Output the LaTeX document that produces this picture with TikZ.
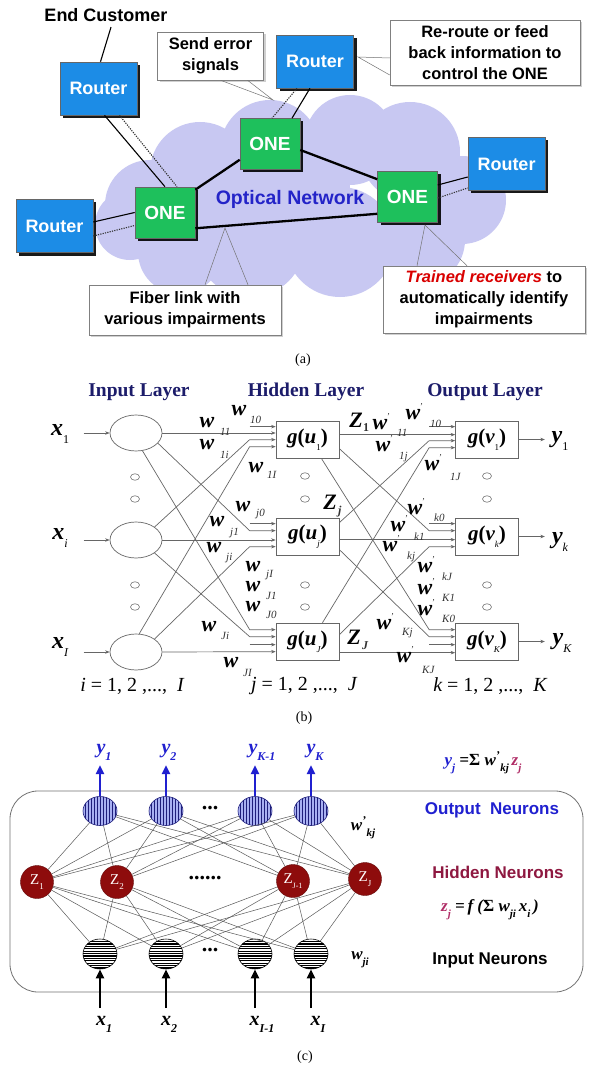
\documentclass[tikz,border=0pt]{standalone}
\usepackage{fontspec}
\setmainfont{Liberation Serif}
\newfontfamily\arialf{Liberation Sans}
\usetikzlibrary{shapes.geometric,arrows.meta,calc,shadows}
\definecolor{routerblue}{HTML}{1C8CE6}
\definecolor{onegreen}{HTML}{1EC05C}
\definecolor{cloudc}{HTML}{C8C8F2}
\definecolor{optblue}{HTML}{2424C8}
\definecolor{navyt}{HTML}{1C1C6A}
\definecolor{ycol}{HTML}{2020D0}
\definecolor{zcol}{HTML}{B02C66}
\definecolor{hidred}{HTML}{8E0C0C}
\definecolor{hntxt}{HTML}{8E1840}
\definecolor{outfill}{HTML}{A8B0F2}
\definecolor{outstripe}{HTML}{1E1E7A}
\newcommand\fs[1]{\fontsize{#1}{#1}\selectfont}
\newcommand\sbs[2]{\raisebox{-0.35em}{\fontsize{#1}{#1}\selectfont #2}}
\newcommand\wl[6]{\node[wt] (#1) at (#2,#3) {w}; \node[ws] (#1s) at (#4,#5) {#6};}
\newcommand\wpl[6]{\node[wt] (#1) at (#2,#3) {w}; \node[ws,font=\fs{9}] (#1p) at (#2+7,#3-8) {'}; \node[ws] (#1s) at (#4+2,#5) {#6};}
\tikzset{
  router/.style={rectangle, fill=routerblue, draw=black!60, line width=0.6pt, text=white,
    font=\arialf\bfseries\fs{18}, minimum width=77pt, minimum height=53pt, inner sep=0pt,
    drop shadow={shadow xshift=3pt, shadow yshift=-3pt, fill=black, opacity=0.9}},
  onebox/.style={router, fill=onegreen, minimum width=60pt, minimum height=51pt, font=\arialf\bfseries\fs{19}},
  callout/.style={rectangle, draw=black!50, fill=white, line width=0.5pt, align=center, inner sep=0pt,
    font=\arialf\bfseries\fontsize{16.5}{21}\selectfont,
    drop shadow={shadow xshift=2pt, shadow yshift=-2pt, fill=black!30, opacity=0.6}},
  ptr/.style={draw=black!55, line width=0.5pt},
  fiber/.style={draw=black, line width=2.3pt},
  acc/.style={draw=black, line width=1.1pt},
  accd/.style={draw=black!80, line width=1.1pt, dash pattern=on 1.2pt off 1.2pt},
  inell/.style={ellipse, draw=black!60, line width=0.7pt, minimum width=52pt, minimum height=36pt, inner sep=0pt},
  gbox/.style={rectangle, draw=black!60, line width=0.7pt, minimum width=63pt, minimum height=37pt, inner sep=0pt, font=\bfseries\fs{21}},
  dotc/.style={ellipse, draw=black!55, line width=0.6pt, minimum width=9pt, minimum height=6.5pt, inner sep=0pt},
  cn/.style={draw=black!60, line width=0.7pt},
  cna/.style={cn, -{Stealth[length=4.5pt,width=3.5pt]}},
  wt/.style={font=\bfseries\itshape\fs{22}, inner sep=0pt},
  ws/.style={font=\itshape\fs{11}, inner sep=0pt, anchor=west, text=black!80},
  lay/.style={font=\bfseries\fs{19.5}, text=navyt},
  xl/.style={font=\bfseries\itshape\fs{24}, inner sep=0pt},
  idx/.style={font=\fs{20}, inner sep=0pt},
  captxt/.style={font=\fs{14}, inner sep=0pt},
  outn/.style={ellipse, draw=outstripe, line width=0.6pt, fill=outfill, minimum width=34pt, minimum height=29pt, inner sep=0pt,
    path picture={\foreach \k in {-15,-12,...,15}{\draw[outstripe,line width=0.9pt] ($(path picture bounding box.center)+(\k pt,-20pt)$) -- ++(0pt,40pt);}}},
  inn/.style={ellipse, draw=black, line width=0.6pt, fill=white, minimum width=34pt, minimum height=30pt, inner sep=0pt,
    path picture={\foreach \k in {-14,-11.6,...,14}{\draw[black,line width=1.1pt] ($(path picture bounding box.center)+(-20pt,\k pt)$) -- ++(40pt,0pt);}}},
  hidn/.style={circle, fill=hidred, draw=hidred!70!black, minimum size=33pt, inner sep=0pt, text=white, font=\fs{15}},
  cc/.style={draw=black!65, line width=0.5pt},
  yarrow/.style={draw=ycol, line width=2.6pt, -{Triangle[length=9pt,width=8pt]}},
  xarrow/.style={draw=black, line width=2.6pt, -{Triangle[length=9pt,width=8pt]}},
  ylab/.style={font=\bfseries\itshape\fs{20}, text=ycol, inner sep=0pt},
  xlab/.style={font=\bfseries\itshape\fs{20}, text=black, inner sep=0pt},
  neur/.style={font=\arialf\bfseries\fs{17}, inner sep=0pt},
  form/.style={font=\bfseries\itshape\fs{17}, inner sep=0pt}
}
\begin{document}
\begin{tikzpicture}[x=1pt,y=-1pt]
\useasboundingbox (0,0) rectangle (592,1067);
\fill[white] (0,0) rectangle (592,1067);
% ================= (a) =================
\foreach \cx/\cy/\r in {270/150/50, 200/172/50, 150/205/45, 130/225/35, 350/140/45, 410/152/50, 462/200/44, 420/240/45, 340/242/55, 250/242/55, 180/252/42, 290/190/60}
  \fill[cloudc] (\cx,\cy) circle[radius=\r pt];
\node[font=\arialf\bfseries\fs{18}] (ec) at (106,15) {End Customer};
\node[router] (r1) at (98.5,88.5) {Router};
\node[router] (r2) at (315,61.5) {Router};
\node[router] (r3) at (506.5,164) {Router};
\node[router] (r4) at (54.5,226) {Router};
\node[onebox] (one1) at (165,212.5) {ONE};
\node[onebox] (one2) at (270,144) {ONE};
\node[onebox] (one3) at (407.5,197) {ONE};
\node[font=\arialf\bfseries\fs{19.5}, text=optblue] (on) at (290,199) {Optical Network};
% links
\draw[fiber] ($(one1.north east)+(0,3)$) -- ($(one2.south west)+(0,-10)$);
\draw[fiber] ($(one2.east)+(0,6)$) -- ($(one3.north west)+(0,8)$);
\draw[fiber] ($(one1.south east)+(0,-10)$) -- ($(one3.south west)+(0,-9)$);
\draw[acc] ($(ec.south)+(5,2)$) -- ($(r1.north)+(2,0)$);
\draw[acc] ($(r1.south)+(6,0)$) -- (one1.north);
\draw[accd] ($(r1.south)+(21,0)$) -- ($(one1.north)+(12,0)$);
\draw[acc] ($(r2.south)+(-5,0)$) -- ($(one2.north)+(22,0)$);
\draw[accd] ($(r2.south)+(-18,0)$) -- ($(one2.north)+(2,0)$);
\draw[acc] ($(r4.east)+(0,-4)$) -- (one1.west);
\draw[accd] ($(r4.east)+(0,10)$) -- ($(one1.west)+(0,13)$);
\draw[acc] ($(one3.east)+(0,-12)$) -- ($(r3.west)+(0,13)$);
\draw[accd] ($(one3.east)+(0,1)$) -- ($(r3.west)+(0,24)$);
% callouts
\node[callout, minimum width=106pt, minimum height=48pt] (s1) at (210.5,56) {Send error\\signals};
\node[callout, minimum width=190pt, minimum height=65pt] (s2) at (485,53) {Re-route or feed\\back information to\\control the ONE};
\node[callout, minimum width=192pt, minimum height=50pt] (s3) at (185,310) {Fiber link with\\various impairments};
\node[callout, minimum width=202pt, minimum height=67pt] (s4) at (484,299.5) {{\color{red!85!black}\itshape Trained receivers} to\\automatically identify\\impairments};
\coordinate (p1) at (273,100);
\coordinate (p2) at (358,57);
\coordinate (p3) at (225,228);
\coordinate (p4) at (425,225);
\draw[ptr] ($(s1.south)+(10,0)$) -- (p1) -- ($(s1.south)+(37,0)$);
\draw[ptr] ($(s2.west)+(0,5)$) -- (p2) -- ($(s2.west)+(0,22)$);
\draw[ptr] ($(s3.north)+(20,0)$) -- (p3) -- ($(s3.north)+(63,0)$);
\draw[ptr] ($(s4.north)+(-67,0)$) -- (p4) -- ($(s4.north)+(-17,0)$);
\node[captxt] (capa) at (303,360) {(a)};
% ================= (b) =================
\node[lay] (l1) at (139,392) {Input Layer};
\node[lay] (l2) at (306,392) {Hidden Layer};
\node[lay] (l3) at (485,392) {Output Layer};
\node[inell] (i1) at (136,433) {};
\node[inell] (ij) at (136,540) {};
\node[inell] (iJ) at (136,652) {};
\node[gbox] (h1) at (307.5,439.5) {\itshape g\upshape(\itshape u\upshape\sbs{9}{\mdseries 1})};
\node[gbox] (hj) at (307.5,536.5) {\itshape g\upshape(\itshape u\upshape\sbs{9}{\mdseries\itshape j})};
\node[gbox] (hJ) at (307.5,641.5) {\itshape g\upshape(\itshape u\upshape\sbs{9}{\mdseries\itshape J})};
\node[gbox] (o1) at (487,439.5) {\itshape g\upshape(\itshape v\upshape\sbs{9}{\mdseries 1})};
\node[gbox] (ok) at (487,536.5) {\itshape g\upshape(\itshape v\upshape\sbs{9}{\mdseries\itshape k})};
\node[gbox] (oK) at (487,641.5) {\itshape g\upshape(\itshape v\upshape\sbs{9}{\mdseries\itshape K})};
\foreach \n/\px/\py in {a1/135/477, a2/135/499, a3/135/585, a4/135/607, b1/305/476, b2/305/499, b3/305/585, b4/305/607, c1/487/476, c2/487/499, c3/487/585, c4/487/607}
  \node[dotc] (d\n) at (\px,\py) {};
\node[xl] (x1) at (60,434) {x\sbs{12}{\mdseries\upshape 1}};
\node[xl] (xj) at (60,538) {x\sbs{12}{\mdseries i}};
\node[xl] (xJ) at (60,647) {x\sbs{12}{\mdseries I}};
\draw[cna] ($(i1.west)+(-26,0)$) -- (i1.west);
\draw[cna] ($(ij.west)+(-26,0)$) -- (ij.west);
\draw[cna] ($(iJ.west)+(-26,0)$) -- (iJ.west);
\node[xl] (y1) at (560,441) {y\sbs{12}{\mdseries\upshape 1}};
\node[xl] (yk) at (560,542) {y\sbs{12}{\mdseries k}};
\node[xl] (yK) at (562,643) {y\sbs{12}{\mdseries K}};
\draw[cna] (o1.east) -- ($(o1.east)+(26,0)$);
\draw[cna] (ok.east) -- ($(ok.east)+(26,0)$);
\draw[cna] (oK.east) -- ($(oK.east)+(26,0)$);
% input -> hidden
\draw[cna] (i1.east) -- (i1.east -| h1.west);
\draw[cna] (ij.east) -- (ij.east -| hj.west);
\draw[cna] (iJ.east) -- ($(hJ.north west)+(0,29)$);
\draw[cna] ($(h1.north west)+(-26,6)$) -- ($(h1.north west)+(0,6)$);
\draw[cna] ($(hj.north west)+(-26,6)$) -- ($(hj.north west)+(0,6)$);
\draw[cna] ($(hJ.north west)+(-26,22)$) -- ($(hJ.north west)+(0,22)$);
\draw[cna] (ij.35) -- ($(h1.north west)+(-26,19)$) -- ($(h1.north west)+(0,19)$);
\draw[cna] (iJ.80) -- ($(h1.north west)+(-26,26)$) -- ($(h1.north west)+(0,26)$);
\draw[cna] (i1.-25) -- ($(hj.north west)+(-26,13)$) -- ($(hj.north west)+(0,13)$);
\draw[cna] (iJ.35) -- ($(hj.north west)+(-26,29)$) -- ($(hj.north west)+(0,29)$);
\draw[cna] (i1.-70) -- ($(hJ.north west)+(-26,7)$) -- ($(hJ.north west)+(0,7)$);
\draw[cna] (ij.-35) -- ($(hJ.north west)+(-26,14)$) -- ($(hJ.north west)+(0,14)$);
% hidden -> output
\draw[cna] ($(h1.north east)+(0,14)$) -- ($(o1.north west)+(0,14)$);
\draw[cna] ($(hj.north east)+(0,22)$) -- ($(ok.north west)+(0,22)$);
\draw[cna] ($(hJ.north east)+(0,30)$) -- ($(oK.north west)+(0,30)$);
\draw[cna] ($(o1.north west)+(-26,6)$) -- ($(o1.north west)+(0,6)$);
\draw[cna] ($(ok.north west)+(-26,6)$) -- ($(ok.north west)+(0,6)$);
\draw[cna] ($(oK.north west)+(-26,22)$) -- ($(oK.north west)+(0,22)$);
\draw[cna] ($(hj.north east)+(0,5)$) -- ($(o1.north west)+(-26,20)$) -- ($(o1.north west)+(0,20)$);
\draw[cna] ($(hJ.north)+(15,0)$) -- ($(o1.north west)+(-26,27)$) -- ($(o1.north west)+(0,27)$);
\draw[cna] ($(h1.north east)+(0,28)$) -- ($(ok.north west)+(-26,13)$) -- ($(ok.north west)+(0,13)$);
\draw[cna] ($(hJ.north east)+(0,12)$) -- ($(ok.north west)+(-26,29)$) -- ($(ok.north west)+(0,29)$);
\draw[cna] ($(h1.south east)+(-18,0)$) -- ($(oK.north west)+(-26,7)$) -- ($(oK.north west)+(0,7)$);
\draw[cna] ($(hj.north east)+(0,32)$) -- ($(oK.north west)+(-26,14)$) -- ($(oK.north west)+(0,14)$);
% weight labels left
\wl{w10}{239}{411}{250}{420}{10}
\wl{w11}{207}{423}{220}{432}{11}
\wl{w1i}{207}{445}{220}{455}{1i}
\wl{w1I}{256}{468}{267}{475}{1I}
\wl{wj0}{243}{507}{256}{514}{j0}
\wl{wj1}{217}{522}{230}{533}{j1}
\wl{wji}{214}{548}{226}{558}{ji}
\wl{wjI}{253}{567}{266}{575}{jI}
\wl{wJ1}{253}{587}{266}{596}{J1}
\wl{wJ0}{253}{607}{266}{615}{J0}
\wl{wJi}{209}{627}{221}{636}{Ji}
\wl{wJI}{231}{663}{243}{673}{JI}
% weight labels right
\node[wt] (z1) at (356,420) {Z}; \node[ws,font=\bfseries\fs{12}] (z1s) at (363,428) {1};
\node[wt] (zj) at (330,502) {Z}; \node[ws,font=\bfseries\itshape\fs{12}] (zjs) at (338,512) {j};
\node[wt] (zJ) at (354,637) {Z}; \node[ws,font=\bfseries\itshape\fs{12}] (zJs) at (362,646) {J};
\wpl{v11}{380}{425}{395}{433}{11}
\wpl{v10}{413}{415}{428}{424}{10}
\wpl{v1j}{383}{447}{397}{457}{1j}
\wpl{v1J}{432}{466}{448}{477}{1J}
\wpl{vk0}{415}{510}{432}{518}{k0}
\wpl{vk1}{398}{527}{412}{537}{k1}
\wpl{vkj}{390}{547}{405}{557}{kj}
\wpl{vkJ}{425}{568}{440}{577}{kJ}
\wpl{vK1}{425}{590}{440}{598}{K1}
\wpl{vK0}{425}{611}{440}{619}{K0}
\wpl{vKj}{384}{625}{400}{633}{Kj}
\wpl{vKJ}{404}{658}{420}{670}{KJ}
\node[idx] (ix1) at (132,686) {\itshape i \upshape= 1, 2 ,..., \ \itshape I};
\node[idx] (ix2) at (304,686) {\itshape j \upshape= 1, 2 ,..., \ \itshape J};
\node[idx] (ix3) at (490,686) {\itshape k \upshape= 1, 2 ,..., \ \itshape K};
\node[captxt] (capb) at (304,718) {(b)};
% ================= (c) =================
\draw[black!55, line width=0.8pt, rounded corners=28pt] (10,791) rectangle (583,992);
\node[outn] (co1) at (100,811) {};
\node[outn] (co2) at (166,811) {};
\node[outn] (co3) at (255,811) {};
\node[outn] (co4) at (311,811) {};
\node[hidn] (ch1) at (37,882) {Z\sbs{9}{1}};
\node[hidn] (ch2) at (117,882) {Z\sbs{9}{2}};
\node[hidn] (ch3) at (293,881) {Z\sbs{8}{J-1}};
\node[hidn] (ch4) at (365,879) {Z\sbs{9}{J}};
\node[inn] (ci1) at (100,954) {};
\node[inn] (ci2) at (166,954) {};
\node[inn] (ci3) at (255,954) {};
\node[inn] (ci4) at (311,954) {};
\foreach \h in {1,...,4}{\foreach \o in {1,...,4}{\draw[cc] (ch\h) -- (co\o); \draw[cc] (ch\h) -- (ci\o);}}
\node[font=\bfseries\fs{22}] (dd1) at (210,808) {...};
\node[font=\bfseries\fs{22}] (dd2) at (205,878) {......};
\node[font=\bfseries\fs{22}] (dd3) at (210,950) {...};
\node[ylab] (cy1) at (104,752) {y\sbs{12}{1}};
\node[ylab] (cy2) at (169,752) {y\sbs{12}{2}};
\node[ylab] (cy3) at (262,752) {y\sbs{12}{K-1}};
\node[ylab] (cy4) at (315,752) {y\sbs{12}{K}};
\foreach \i in {1,...,4}{\draw[yarrow] (co\i.north) -- (co\i.north |- 0,765);}
\node[xlab] (cx1) at (104,1024) {x\sbs{12}{1}};
\node[xlab] (cx2) at (169,1024) {x\sbs{12}{2}};
\node[xlab] (cx3) at (262,1024) {x\sbs{12}{I-1}};
\node[xlab] (cx4) at (318,1024) {x\sbs{12}{I}};
\foreach \i in {1,...,4}{\draw[xarrow] (ci\i.south |- 0,1008) -- (ci\i.south);}
\node[form] (f1) at (483,763) {{\color{ycol}y\sbs{11}{j}} =\upshape Σ\itshape\ w\textsuperscript{'}\sbs{11}{kj}\,{\color{zcol}z\sbs{11}{j}}};
\node[neur, text=ycol] (on1) at (492,810) {Output\ \ Neurons};
\node[form] (f2) at (363,828) {w\textsuperscript{'}\sbs{11}{kj}};
\node[neur, text=hntxt] (hn1) at (498,872) {Hidden Neurons};
\node[form] (f3) at (490,910) {{\color{zcol}z\sbs{11}{j}} =\,f (\upshape Σ\itshape\ w\sbs{11}{ji}\,x\sbs{11}{i}\,)};
\node[form] (f4) at (360,960) {w\sbs{11}{ji}};
\node[neur] (in1) at (490,960) {Input Neurons};
\node[captxt] (capc) at (305,1057) {(c)};
\end{tikzpicture}
\end{document}
